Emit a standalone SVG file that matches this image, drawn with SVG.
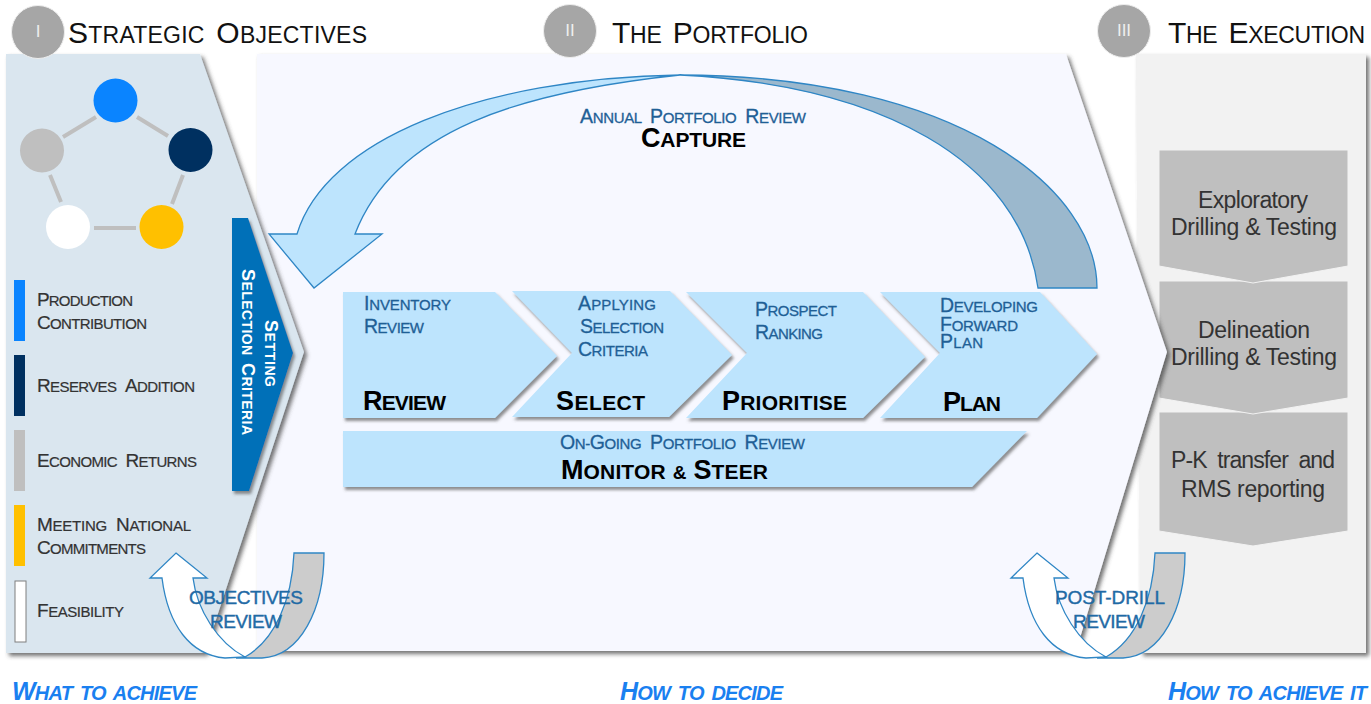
<svg xmlns="http://www.w3.org/2000/svg" width="1371" height="704" viewBox="0 0 1371 704">
<style>
text{font-family:"Liberation Sans",Arial,sans-serif;word-spacing:5px}
.h{font-size:23px;fill:#111}.h .c{font-size:30px}
.l{font-size:15px;fill:#333;stroke:#333;stroke-width:.2}.l .c{font-size:19px}
.b{font-size:14px;font-weight:bold;fill:#fff;word-spacing:3px}.b .c{font-size:18px}
.sub{font-size:15px;fill:#1f5f96;stroke:#1f5f96;stroke-width:.3}.sub .c{font-size:19.500px}
.m{font-size:21px;font-weight:bold;fill:#000}.m .c{font-size:27px}.m .a{font-size:19px}
.blk{font-size:23px;fill:#333;word-spacing:0}
.rv{font-size:19px;fill:#1f6aa5;stroke:#1f6aa5;stroke-width:.4;word-spacing:0}
.ft{font-size:20px;font-weight:bold;font-style:italic;fill:#1a80f0;word-spacing:3px}.ft .c{font-size:25px}
.num{font-size:17px;fill:#eee;text-anchor:middle}
.chev{fill:#bde4fd;filter:url(#sh)}
.ex{fill:#bfbfbf;stroke:#f2f2f2;stroke-width:1}
.band{stroke:#2f86c5;stroke-width:1.3}
.link{stroke:#bfbfbf;stroke-width:4;fill:none}
</style>
<defs>
<filter id="sh" x="-10%" y="-10%" width="120%" height="120%"><feDropShadow dx="2" dy="3" stdDeviation="1.5" flood-color="#555" flood-opacity=".65"/></filter>
<filter id="sh2" x="-5%" y="-5%" width="110%" height="110%"><feDropShadow dx="3" dy="3" stdDeviation="2" flood-color="#444" flood-opacity=".75"/></filter>
<g id="u">
<path class="band" fill="#ccc" d="M324,553L294,553C292,600 275,640 245,657L236,658L262,658C300,656 324,610 324,553Z"/>
<path class="band" fill="#fff" d="M176,553L207,578L193,578C197,610 218,643 245,657L225,658C190,655 168,625 162,578L150,578Z"/>
</g>
</defs>
<rect width="1371" height="704" fill="#fff"/>

<g id="panel-execution"><path d="M1136,54H1366V653H1140Z" fill="#f2f2f2" filter="url(#sh2)"/></g>

<g id="ex-3"><path class="ex" d="M1159,412H1348V531L1253,546L1159,531Z"/>
<text class="blk" x="1171" y="468" textLength="164" style="word-spacing:5px">P-K transfer and</text><text class="blk" x="1181" y="497" textLength="144">RMS reporting</text></g>
<g id="ex-2"><path class="ex" d="M1159,281H1348V398L1253,414L1159,398Z"/>
<text class="blk" x="1198" y="338" textLength="112">Delineation</text><text class="blk" x="1171" y="365" textLength="166">Drilling &amp; Testing</text></g>
<g id="ex-1"><path class="ex" d="M1159,150H1348V266L1253,283L1159,266Z"/>
<text class="blk" x="1198" y="208" textLength="110">Exploratory</text><text class="blk" x="1171" y="235" textLength="166">Drilling &amp; Testing</text></g>

<g id="panel-portfolio"><path d="M257,54H1066L1167,352L1076,651H257Z" fill="#f7f8ff" filter="url(#sh2)"/></g>
<g id="panel-objectives"><path d="M6,54H200L304,352L205,653H6Z" fill="#dae6ef" filter="url(#sh2)"/></g>

<g id="head-1"><circle cx="38" cy="32" r="26.500" fill="#a6a6a6" stroke="#eee"/><text class="num" x="38" y="37">I</text>
<text class="h" x="68" y="43" textLength="299"><tspan class="c">S</tspan>TRATEGIC <tspan class="c">O</tspan>BJECTIVES</text></g>
<g id="head-2"><circle cx="570" cy="31" r="26.500" fill="#a6a6a6" stroke="#eee"/><text class="num" x="570" y="36">II</text>
<text class="h" x="612" y="43" textLength="196"><tspan class="c">T</tspan>HE <tspan class="c">P</tspan>ORTFOLIO</text></g>
<g id="head-3"><circle cx="1124" cy="31" r="26.500" fill="#a6a6a6" stroke="#eee"/><text class="num" x="1124" y="36">III</text>
<text class="h" x="1168" y="43" textLength="197"><tspan class="c">T</tspan>HE <tspan class="c">E</tspan>XECUTION</text></g>

<g id="pentagon">
<path class="link" d="M63,137L96,117M137,117L168,136M183,175L172,204M50,175L61,202M94,228H136"/>
<circle cx="115.500" cy="100.500" r="22" fill="#0a84ff"/><circle cx="190.500" cy="150" r="22" fill="#003060"/><circle cx="42" cy="150.500" r="22" fill="#bfbfbf"/><circle cx="68" cy="227" r="22" fill="#fff"/><circle cx="161.500" cy="227" r="22" fill="#ffc000"/>
</g>

<g id="obj-production"><rect x="14" y="280" width="11" height="61" fill="#0a84ff"/>
<text class="l" x="37" y="306" textLength="96"><tspan class="c">P</tspan>RODUCTION</text><text class="l" x="37" y="329" textLength="110"><tspan class="c">C</tspan>ONTRIBUTION</text></g>
<g id="obj-reserves"><rect x="14" y="355" width="11" height="61" fill="#003060"/>
<text class="l" x="37" y="392" textLength="158"><tspan class="c">R</tspan>ESERVES <tspan class="c">A</tspan>DDITION</text></g>
<g id="obj-economic"><rect x="14" y="430" width="11" height="61" fill="#bfbfbf"/>
<text class="l" x="37" y="467" textLength="160"><tspan class="c">E</tspan>CONOMIC <tspan class="c">R</tspan>ETURNS</text></g>
<g id="obj-national"><rect x="14" y="505" width="11" height="61" fill="#ffc000"/>
<text class="l" x="37" y="531" textLength="154"><tspan class="c">M</tspan>EETING <tspan class="c">N</tspan>ATIONAL</text><text class="l" x="37" y="554" textLength="109"><tspan class="c">C</tspan>OMMITMENTS</text></g>
<g id="obj-feasibility"><rect x="15" y="581" width="11" height="61" fill="#fff" stroke="#7f7f7f"/>
<text class="l" x="37" y="617" textLength="87"><tspan class="c">F</tspan>EASIBILITY</text></g>

<g id="setting"><path d="M232,218H248L293,353L249,491H232Z" fill="#0070b8" filter="url(#sh)"/>
<text class="b" transform="translate(265,320) rotate(90)" textLength="67"><tspan class="c">S</tspan>ETTING</text>
<text class="b" transform="translate(242,269) rotate(90)" textLength="166"><tspan class="c">S</tspan>ELECTION <tspan class="c">C</tspan>RITERIA</text></g>

<g id="connectors">
<path class="band" fill="#9bb8cd" d="M1097,288C1097,190 960,76 680,75C880,85 1020,160 1038,288Z"/>
<path class="band" fill="#bde4fd" d="M297,234C325,140 480,78 680,75C520,92 395,130 355,234H382L314,288L269,234Z"/>
<use href="#u"/>
<use href="#u" x="861"/>
</g>

<g id="capture"><text class="sub" x="580" y="123" textLength="226"><tspan class="c">A</tspan>NNUAL <tspan class="c">P</tspan>ORTFOLIO <tspan class="c">R</tspan>EVIEW</text>
<text class="m" x="641" y="147" textLength="105"><tspan class="c">C</tspan>APTURE</text></g>

<g id="review"><path class="chev" d="M343,292H495L557,356L495,418H343Z"/>
<text class="sub" x="364" y="310" textLength="87"><tspan class="c">I</tspan>NVENTORY</text><text class="sub" x="364" y="333" textLength="60"><tspan class="c">R</tspan>EVIEW</text>
<text class="m" x="363" y="410" textLength="83"><tspan class="c">R</tspan>EVIEW</text></g>
<g id="select"><path class="chev" d="M512,291H670L732,355L669,417H512L572,353Z"/>
<text class="sub" x="578" y="310" textLength="78"><tspan class="c">A</tspan>PPLYING</text><text class="sub" x="580" y="333" textLength="84"><tspan class="c">S</tspan>ELECTION</text><text class="sub" x="578" y="356" textLength="70"><tspan class="c">C</tspan>RITERIA</text>
<text class="m" x="556" y="410" textLength="89"><tspan class="c">S</tspan>ELECT</text></g>
<g id="prioritise"><path class="chev" d="M686,292H863L925,357L863,418H686L747,353Z"/>
<text class="sub" x="755" y="316" textLength="82"><tspan class="c">P</tspan>ROSPECT</text><text class="sub" x="755" y="339" textLength="68"><tspan class="c">R</tspan>ANKING</text>
<text class="m" x="722" y="410" textLength="125"><tspan class="c">P</tspan>RIORITISE</text></g>
<g id="plan"><path class="chev" d="M880,292H1040L1097,354L1037,418H880L940,353Z"/>
<text class="sub" x="940" y="312" textLength="98"><tspan class="c">D</tspan>EVELOPING</text><text class="sub" x="940" y="331" textLength="78"><tspan class="c">F</tspan>ORWARD</text><text class="sub" x="940" y="348" textLength="43"><tspan class="c">P</tspan>LAN</text>
<text class="m" x="943" y="411" textLength="58"><tspan class="c">P</tspan>LAN</text></g>
<g id="monitor"><path class="chev" d="M343,431H1027L972,487H343Z"/>
<text class="sub" x="560" y="449" textLength="245"><tspan class="c">O</tspan>N-<tspan class="c">G</tspan>OING <tspan class="c">P</tspan>ORTFOLIO <tspan class="c">R</tspan>EVIEW</text>
<text class="m" x="561" y="479" textLength="207" style="word-spacing:1px"><tspan class="c">M</tspan>ONITOR <tspan class="a">&amp;</tspan> <tspan class="c">S</tspan>TEER</text></g>

<g id="review-labels">
<text class="rv" x="189" y="604" textLength="114">OBJECTIVES</text><text class="rv" x="210" y="628" textLength="72">REVIEW</text>
<text class="rv" x="1055" y="604" textLength="110">POST-DRILL</text><text class="rv" x="1073" y="628" textLength="72">REVIEW</text>
</g>

<g id="footer">
<text class="ft" x="12" y="700" textLength="185"><tspan class="c">W</tspan>HAT TO ACHIEVE</text>
<text class="ft" x="620" y="700" textLength="163"><tspan class="c">H</tspan>OW TO DECIDE</text>
<text class="ft" x="1168" y="700" textLength="199"><tspan class="c">H</tspan>OW TO ACHIEVE IT</text>
</g>
</svg>
